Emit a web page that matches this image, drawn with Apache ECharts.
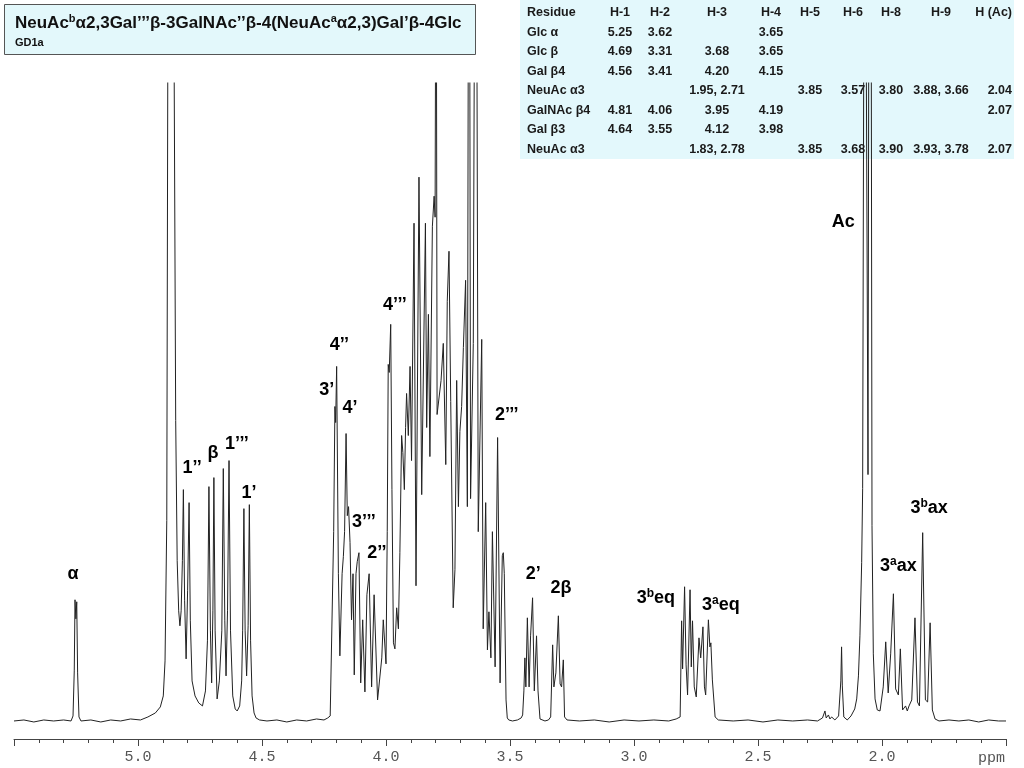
<!DOCTYPE html>
<html>
<head>
<meta charset="utf-8">
<script src="https://cdn.jsdelivr.net/npm/echarts@6/dist/echarts.min.js"></script>
<style>
html,body{margin:0;padding:0;background:#fff;}
#chart{width:1024px;height:768px;}
</style>
</head>
<body>
<div id="chart"></div>
<script>
// ---- spectrum vertices: [ppm, intensity above baseline] ----
const anomericRegion = [
  [5.50,0],[5.46,1],[5.42,-1],[5.38,1],[5.34,0],[5.30,1],[5.27,0],[5.262,5],[5.257,50],[5.254,121],[5.2505,102],[5.247,119],[5.2435,48],[5.238,4],[5.23,0],
  [5.19,1],[5.15,-1],[5.11,1],[5.07,0],[5.03,2],[4.99,1],[4.96,4],[4.93,8],[4.91,14],[4.898,25],[4.891,60],[4.884,200],[4.880,640],[4.867,2500],[4.854,640],
  [4.848,300],[4.842,160],[4.836,110],[4.831,95],[4.826,110],[4.821,160],[4.817,231],[4.812,120],[4.806,62],[4.800,130],[4.794,218],[4.789,100],[4.782,40],
  [4.770,25],[4.755,18],[4.740,15],[4.728,30],[4.720,80],[4.714,234],[4.708,90],[4.703,38],[4.698,110],[4.694,243],[4.689,90],[4.681,22],
  [4.672,40],[4.662,90],[4.656,252],[4.650,100],[4.645,45],[4.639,110],[4.633,260],[4.627,90],[4.618,25],[4.608,12],[4.600,10],[4.590,15],
  [4.582,40],[4.578,90],[4.573,212],[4.568,90],[4.562,45],[4.556,95],[4.551,216],[4.546,80],[4.540,25],[4.532,8],[4.524,3],
  [4.51,1],[4.48,0],[4.44,1],[4.40,-1],[4.36,1],[4.32,0],[4.28,2],[4.25,1],[4.235,3],[4.225,5]
];
const ringRegion = [
  [4.218,6],[4.211,189],[4.206,314],[4.203,298],[4.199,354],[4.192,147],[4.186,65],[4.177,147],[4.172,164],[4.167,189],[4.161,287],[4.156,205],
  [4.151,214],[4.145,178],[4.139,101],[4.133,147],[4.128,46],[4.121,147],[4.116,159],[4.109,168],[4.102,38],[4.094,101],[4.085,29],[4.077,126],
  [4.068,147],[4.058,34],[4.048,126],[4.034,21],[4.017,63],[4.011,101],[4.000,57],[3.995,189],[3.991,356],[3.987,348],[3.981,396],[3.976,231],
  [3.970,78],[3.964,72],[3.957,113],[3.950,92],[3.944,168],[3.937,285],[3.932,268],[3.926,231],[3.921,293],[3.917,327],[3.910,285],[3.903,354],
  [3.897,260],[3.887,497],[3.879,135],[3.867,543],[3.856,226],[3.841,497],[3.836,293],[3.829,406],[3.823,264],[3.813,494],[3.806,524],[3.802,503],
  [3.798,900],[3.794,306],[3.789,306],[3.778,340],[3.769,377],[3.759,256],[3.753,419],[3.746,469],[3.739,319],[3.729,113],[3.722,151],[3.715,340],
  [3.708,214],[3.702,289],[3.695,314],[3.688,373],[3.679,440],[3.672,214],[3.665,1100],[3.659,222],[3.648,377],[3.638,1100],[3.628,189],[3.614,381],
  [3.608,92],[3.598,218],[3.591,71],[3.585,109],[3.577,63],[3.571,189],[3.560,54],[3.550,283],[3.540,38],[3.531,165],[3.527,168],[3.523,147],
  [3.516,21],[3.511,3]
];
const h2Region = [
  [3.505,1],[3.49,0],[3.47,1],[3.455,3],[3.449,6],[3.444,30],[3.440,63],[3.436,34],[3.430,103],[3.423,34],[3.417,85],[3.409,123],[3.402,30],
  [3.393,85],[3.387,30],[3.379,2],[3.359,0],[3.345,1],[3.336,4],[3.328,76],[3.323,34],[3.315,48],[3.305,105],[3.298,37],[3.292,34],[3.285,61],
  [3.280,4],[3.27,1],[3.22,0],[3.16,1],[3.10,-1],[3.04,1],[2.98,0],[2.92,1],[2.86,0],[2.83,2]
];
const neuAcEqRegion = [
  [2.814,4],[2.808,100],[2.804,52],[2.796,134],[2.790,56],[2.784,26],[2.774,131],[2.769,54],[2.764,100],[2.757,34],[2.749,24],[2.738,83],
  [2.731,63],[2.722,94],[2.716,34],[2.711,26],[2.700,101],[2.694,74],[2.690,78],[2.684,41],[2.673,4],[2.66,1],[2.60,0],[2.54,1],[2.48,-1],
  [2.42,1],[2.36,0],[2.30,1],[2.26,0],[2.24,3]
];
const acetylRegion = [
  [2.230,10],[2.225,3],[2.216,6],[2.210,2],[2.203,4],[2.19,1],[2.175,5],[2.166,40],[2.163,74],[2.160,35],[2.154,4],[2.14,1],[2.125,5],[2.11,12],
  [2.102,22],[2.095,45],[2.089,85],[2.082,158],[2.078,232],[2.0739,640],[2.0685,3000],[2.063,640],[2.0564,246],[2.0537,640],[2.0483,3000],
  [2.043,640],[2.0403,195],[2.035,67],[2.028,22],[2.019,11]
];
const neuAcAxRegion = [
  [2.008,10],[1.995,34],[1.985,79],[1.975,28],[1.965,67],[1.954,127],[1.945,32],[1.934,26],[1.926,72],[1.917,11],[1.905,15],[1.898,10],
  [1.891,15],[1.880,21],[1.867,103],[1.857,19],[1.849,15],[1.836,188],[1.825,21],[1.816,19],[1.806,98],[1.797,11],[1.786,2],
  [1.77,0],[1.73,1],[1.69,0],[1.65,1],[1.61,-1],[1.57,1],[1.53,0],[1.50,0]
];

// ---- peak annotations: [text, ppm, intensity] ----
const peakLabels = [
  ['α',5.262,147],['1’’',4.782,253],['β',4.698,268],['1’’’',4.601,277],['1’',4.552,228],
  ['3’',4.239,330],['4’’',4.188,375],['4’',4.145,312],['3’’’',4.089,199],['2’’',4.037,168],
  ['4’’’',3.964,415],['2’’’',3.513,305],['2’',3.406,147],['2β',3.294,133],
  ['3^beq',2.912,123],['3^aeq',2.650,116],['Ac',2.156,498],['3^aax',1.934,155],['3^bax',1.810,213]
];

// ---- axis ----
const ppmMin = 1.5, ppmMax = 5.5, ppmStep = 0.5;

// ---- header texts ----
const titleText = 'NeuAc^bα2,3Gal’’’β-3GalNAc’’β-4(NeuAc^aα2,3)Gal’β-4Glc';
const subtitleText = 'GD1a';
const unitText = 'ppm';

// ---- assignment table ----
const tableHeader = ['Residue','H-1','H-2','H-3','H-4','H-5','H-6','H-8','H-9','H (Ac)'];
const tableRows = [
  ['Glc α','5.25','3.62','','3.65','','','','',''],
  ['Glc β','4.69','3.31','3.68','3.65','','','','',''],
  ['Gal β4','4.56','3.41','4.20','4.15','','','','',''],
  ['NeuAc α3','','','1.95, 2.71','','3.85','3.57','3.80','3.88, 3.66','2.04'],
  ['GalNAc β4','4.81','4.06','3.95','4.19','','','','','2.07'],
  ['Gal β3','4.64','3.55','4.12','3.98','','','','',''],
  ['NeuAc α3','','','1.83, 2.78','','3.85','3.68','3.90','3.93, 3.78','2.07']
];

const spectrum = [].concat(anomericRegion, ringRegion, h2Region, neuAcEqRegion, acetylRegion, neuAcAxRegion);

function toRich(s, n) {
  // '^x' marks a superscript letter
  const parts = s.split(/\^(\w)/);
  let out = '';
  for (let i = 0; i < parts.length; i++) {
    if (parts[i] === '') continue;
    out += (i % 2 === 1) ? '{s|' + parts[i] + '}' : '{' + n + '|' + parts[i] + '}';
  }
  return out;
}

const FONT = '"Liberation Sans", Arial, "DejaVu Sans", sans-serif';
const chart = echarts.init(document.getElementById('chart'), null, {renderer: 'canvas'});

// table graphics
const colX = [527, 620, 660, 717, 771, 810, 853, 891, 941, 1012];
const colAlign = ['left','center','center','center','center','center','center','center','center','right'];
const rowY0 = 13, rowStep = 19.5;
const tableChildren = [{
  type: 'rect', shape: {x: 520, y: 0, width: 494, height: 159},
  style: {fill: '#E3F8FC', stroke: null}
}];
[tableHeader].concat(tableRows).forEach(function (row, r) {
  row.forEach(function (cell, c) {
    if (!cell) return;
    tableChildren.push({
      type: 'text',
      style: {
        text: cell, x: colX[c], y: rowY0 + r * rowStep,
        align: colAlign[c], textAlign: colAlign[c],
        verticalAlign: 'middle', textVerticalAlign: 'middle',
        fontFamily: FONT, fontSize: 12.5, fontWeight: 'bold', fill: '#1a1a1a'
      }
    });
  });
});

const option = {
  animation: false,
  backgroundColor: '#fff',
  grid: {left: 14, right: 18, top: 83, bottom: 29},
  xAxis: {
    type: 'value', min: ppmMin, max: ppmMax, interval: ppmStep, inverse: true,
    axisLine: {show: true, onZero: false, lineStyle: {color: '#444', width: 1}},
    axisTick: {show: true, length: 7, lineStyle: {color: '#444'}},
    minorTick: {show: true, splitNumber: 5, length: 4, lineStyle: {color: '#444'}},
    axisLabel: {
      formatter: function (v) { return v.toFixed(1); },
      showMinLabel: false, showMaxLabel: false,
      fontFamily: '"Liberation Mono", "DejaVu Sans Mono", monospace', fontSize: 15, color: '#555', margin: 11
    },
    splitLine: {show: false}
  },
  yAxis: {type: 'value', min: -18, max: 637, show: false},
  series: [
    {
      type: 'line', data: spectrum, showSymbol: false, symbol: 'none', smooth: false, clip: true,
      lineStyle: {color: '#222', width: 1}, z: 2
    },
    {
      type: 'scatter', symbolSize: 0, z: 3, silent: true,
      itemStyle: {opacity: 1},
      data: peakLabels.map(function (p) { return {value: [p[1], p[2]], name: p[0]}; }),
      label: {
        show: true, position: 'inside', opacity: 1, color: '#000', textBorderWidth: 0,
        formatter: function (p) { return toRich(p.name, 'n'); },
        rich: {
          n: {fontFamily: FONT, fontSize: 18, fontWeight: 'bold', color: '#000', lineHeight: 20, textBorderWidth: 0},
          s: {fontFamily: FONT, fontSize: 12, fontWeight: 'bold', color: '#000', lineHeight: 20, verticalAlign: 'top', padding: [0, 0, 8, 0], textBorderWidth: 0}
        }
      }
    }
  ],
  graphic: [
    {
      type: 'group', z: 100,
      children: [
        {type: 'rect', shape: {x: 4.5, y: 4.5, width: 471, height: 50}, style: {fill: '#E3F8FB', stroke: '#555', lineWidth: 1}},
        {type: 'text', style: {
          text: toRich(titleText, 'n'), x: 15, y: 23, verticalAlign: 'middle', textVerticalAlign: 'middle',
          rich: {
            n: {fontFamily: FONT, fontSize: 17, fontWeight: 'bold', fill: '#111', color: '#111', lineHeight: 20},
            s: {fontFamily: FONT, fontSize: 11, fontWeight: 'bold', fill: '#111', color: '#111', lineHeight: 20, verticalAlign: 'top', padding: [0, 0, 7, 0]}
          }
        }},
        {type: 'text', style: {text: subtitleText, x: 15, y: 43, verticalAlign: 'middle', textVerticalAlign: 'middle',
          fontFamily: FONT, fontSize: 11, fontWeight: 'bold', fill: '#111'}}
      ]
    },
    {type: 'group', z: 100, children: tableChildren},
    {type: 'text', z: 100, style: {text: unitText, x: 978, y: 758, verticalAlign: 'middle', textVerticalAlign: 'middle',
      fontFamily: '"Liberation Mono", "DejaVu Sans Mono", monospace', fontSize: 15, fill: '#555'}}
  ]
};
chart.setOption(option);
</script>
</body>
</html>
